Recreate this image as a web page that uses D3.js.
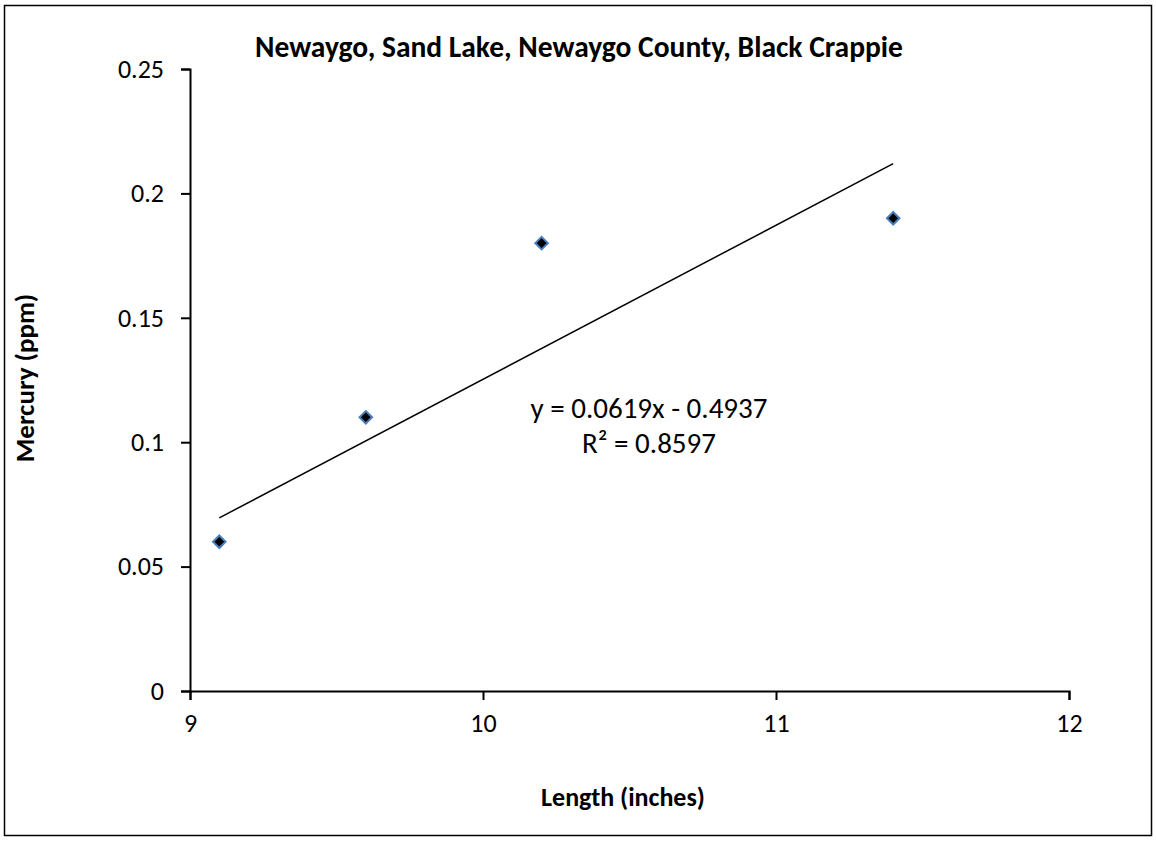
<!DOCTYPE html>
<html><head><meta charset="utf-8">
<script src="https://cdn.jsdelivr.net/npm/d3@7"></script>
<style>body{margin:0;background:#fff}text{font-family:Carlito,Lato,"Open Sans",sans-serif}</style>
</head><body><svg id="c" width="1156" height="842"></svg>
<script>
const lengths = [9.1, 9.6, 10.2, 11.4];
const mercury = [0.06, 0.11, 0.18, 0.19];
const xTicks = [9, 10, 11, 12];
const yTicks = [0, 0.05, 0.1, 0.15, 0.2, 0.25];
const slope = 0.0619, intercept = -0.4937;
const eqLabel = "y = 0.0619x - 0.4937";
const r2Label = "R² = 0.8597";
const title = "Newaygo, Sand Lake, Newaygo County, Black Crappie";

const svg = d3.select("#c");
svg.append("rect").attr("x",4.5).attr("y",5.5).attr("width",1147).attr("height",830)
  .attr("fill","#fff").attr("stroke","#000").attr("stroke-width",1.5);

const x = d3.scaleLinear().domain([9,12]).range([190,1069]);
const y = d3.scaleLinear().domain([0,0.25]).range([691,69]);

const ya = svg.append("g").attr("transform","translate(190,0)")
  .call(d3.axisLeft(y).tickValues(yTicks).tickFormat(d=>d===0?"0":String(d)).tickSize(9).tickPadding(17));
const xa = svg.append("g").attr("transform","translate(0,691)")
  .call(d3.axisBottom(x).tickValues(xTicks).tickFormat(d3.format("d")).tickSize(9).tickPadding(10));
[ya,xa].forEach(a=>{a.select(".domain").attr("stroke","#000").attr("stroke-width",2);
  a.selectAll(".tick line").attr("stroke","#000").attr("stroke-width",2);
  a.selectAll(".tick text").attr("font-size",26).attr("fill","#000");});
xa.selectAll(".tick text").attr("dy","0.85em");

// trendline
const x0 = d3.min(lengths), x1 = d3.max(lengths);
svg.append("line").attr("x1",x(x0)).attr("y1",y(slope*x0+intercept))
  .attr("x2",x(x1)).attr("y2",y(slope*x1+intercept)).attr("stroke","#000").attr("stroke-width",1.5);

// markers
const sym = d3.symbol().type(d3.symbolDiamond2).size(100);
svg.selectAll(".pt").data(lengths).join("path").attr("class","pt")
  .attr("transform",(d,i)=>`translate(${x(d)},${y(mercury[i])})`)
  .attr("d",sym).attr("fill","#000").attr("stroke","#4a7ebb").attr("stroke-width",2);

svg.append("text").attr("x",579).attr("y",57).attr("text-anchor","middle")
  .attr("font-size",29.5).attr("font-weight","bold").text(title);
svg.append("text").attr("transform","translate(34,378) rotate(-90)").attr("text-anchor","middle")
  .attr("font-size",27).attr("font-weight","bold").text("Mercury (ppm)");
svg.append("text").attr("x",623).attr("y",806).attr("text-anchor","middle")
  .attr("font-size",26).attr("font-weight","bold").text("Length (inches)");
svg.append("text").attr("x",649).attr("y",418).attr("text-anchor","middle")
  .attr("font-size",29).text(eqLabel);
svg.append("text").attr("x",649).attr("y",453).attr("text-anchor","middle")
  .attr("font-size",29).text(r2Label);
</script></body></html>
